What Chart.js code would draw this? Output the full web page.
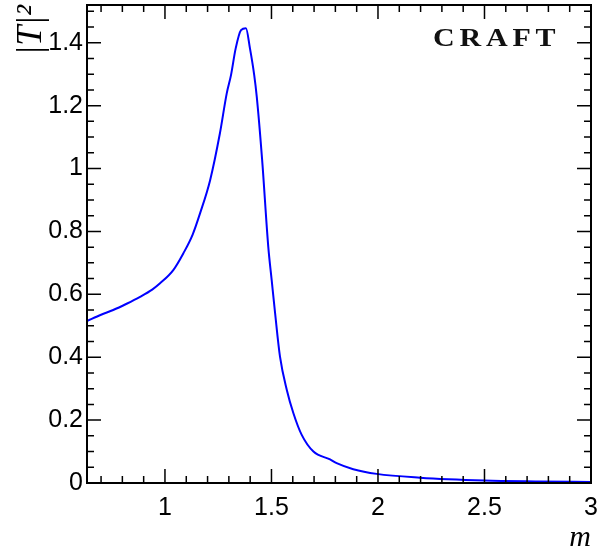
<!DOCTYPE html>
<html>
<head>
<meta charset="utf-8">
<script src="https://cdn.jsdelivr.net/npm/chart.js@4.4.1/dist/chart.umd.min.js"></script>
<style>
  html, body { margin: 0; padding: 0; background: #fff; }
  #wrap { width: 600px; height: 556px; }
</style>
</head>
<body>
<div id="wrap"><canvas id="chart"></canvas></div>
<script>
// |T|^2 versus m
const massValues = [0.634, 0.70, 0.757, 0.82, 0.883, 0.94, 0.977, 1.039, 1.086, 1.13, 1.165, 1.212,
  1.258, 1.290, 1.310, 1.332, 1.357, 1.380, 1.399, 1.419, 1.431, 1.456, 1.485, 1.501, 1.517,
  1.540, 1.572, 1.603, 1.642, 1.697, 1.775, 1.806, 1.884, 1.994, 2.197, 2.5, 2.75, 3.0];
const t2Values = [0.515, 0.535, 0.550, 0.570, 0.592, 0.615, 0.635, 0.677, 0.730, 0.79, 0.858, 0.963,
  1.112, 1.239, 1.297, 1.382, 1.440, 1.446, 1.382, 1.297, 1.228, 1.029, 0.751, 0.645, 0.54,
  0.402, 0.296, 0.222, 0.153, 0.100, 0.075, 0.063, 0.044, 0.029, 0.017, 0.008, 0.005, 0.003];
const xTickValues = [1, 1.5, 2, 2.5, 3];
const yTickValues = [0, 0.2, 0.4, 0.6, 0.8, 1, 1.2, 1.4];
const xMin = 0.634, xMax = 3, yMin = 0, yMax = 1.52;

// ROOT-like frame with ticks pointing inward on all four sides
const frameTicks = {
  id: 'frameTicks',
  afterDraw(chart) {
    const { ctx, chartArea: a, scales: { x, y } } = chart;
    ctx.save();
    ctx.strokeStyle = '#000';
    ctx.lineWidth = 2;
    ctx.strokeRect(a.left, a.top, a.right - a.left, a.bottom - a.top);
    ctx.lineWidth = 1.5;
    ctx.beginPath();
    for (let i = 7; i <= 29; i++) {
      const px = x.getPixelForValue(i / 10);
      const len = i % 5 === 0 ? 14 : 7;
      ctx.moveTo(px, a.bottom); ctx.lineTo(px, a.bottom - len);
      ctx.moveTo(px, a.top); ctx.lineTo(px, a.top + len);
    }
    for (let i = 1; i <= 30; i++) {
      const py = y.getPixelForValue(i / 20);
      const len = i % 4 === 0 ? 14 : 7;
      ctx.moveTo(a.left, py); ctx.lineTo(a.left + len, py);
      ctx.moveTo(a.right, py); ctx.lineTo(a.right - len, py);
    }
    ctx.stroke();
    // label in the top right corner, wide bold serif
    ctx.fillStyle = '#111';
    ctx.font = 'bold 25px "Liberation Serif"';
    ctx.letterSpacing = '4px';
    ctx.textBaseline = 'alphabetic';
    ctx.translate(433, 46);
    ctx.scale(1.2, 1);
    ctx.fillText('CRAFT', 0, 0);
    ctx.restore();
  }
};

new Chart(document.getElementById('chart'), {
  type: 'line',
  data: {
    datasets: [{
      data: massValues.map((m, i) => ({ x: m, y: t2Values[i] })),
      borderColor: '#0000ff',
      borderWidth: 2,
      pointRadius: 0,
      cubicInterpolationMode: 'monotone',
      fill: false
    }]
  },
  options: {
    responsive: true,
    maintainAspectRatio: false,
    animation: false,
    layout: { padding: { left: 0, right: 9, top: 5, bottom: 0 } },
    plugins: { legend: { display: false }, tooltip: { enabled: false } },
    scales: {
      x: {
        type: 'linear',
        min: xMin,
        max: xMax,
        afterBuildTicks: (s) => { s.ticks = xTickValues.map((v) => ({ value: v })); },
        afterFit: (s) => {
          s.height = 73;
          s.paddingLeft = 0;
          s.paddingRight = 0;
        },
        grid: { display: false, drawTicks: false },
        border: { display: false },
        ticks: {
          color: '#000',
          font: { family: '"Liberation Sans"', size: 25 },
          padding: 10,
          maxRotation: 0,
          autoSkip: false,
          callback: (v) => String(v)
        },
        title: {
          display: true,
          text: 'm',
          align: 'end',
          color: '#000',
          font: { family: '"Liberation Serif"', style: 'italic', size: 30 },
          padding: { top: 0, bottom: 0 }
        }
      },
      y: {
        type: 'linear',
        min: yMin,
        max: yMax,
        afterBuildTicks: (s) => { s.ticks = yTickValues.map((v) => ({ value: v })); },
        afterFit: (s) => {
          s.width = 87;
          s.paddingTop = 0;
          s.paddingBottom = 0;
        },
        grid: { display: false, drawTicks: false },
        border: { display: false },
        ticks: {
          color: '#000',
          font: { family: '"Liberation Sans"', size: 25 },
          padding: 4,
          autoSkip: false,
          callback: (v) => String(v)
        },
        title: {
          display: true,
          text: '|T|²',
          align: 'end',
          color: '#000',
          font: { family: '"Liberation Serif"', style: 'italic', size: 36 },
          padding: { top: 10, bottom: 0 }
        }
      }
    }
  },
  plugins: [frameTicks]
});
</script>
</body>
</html>
